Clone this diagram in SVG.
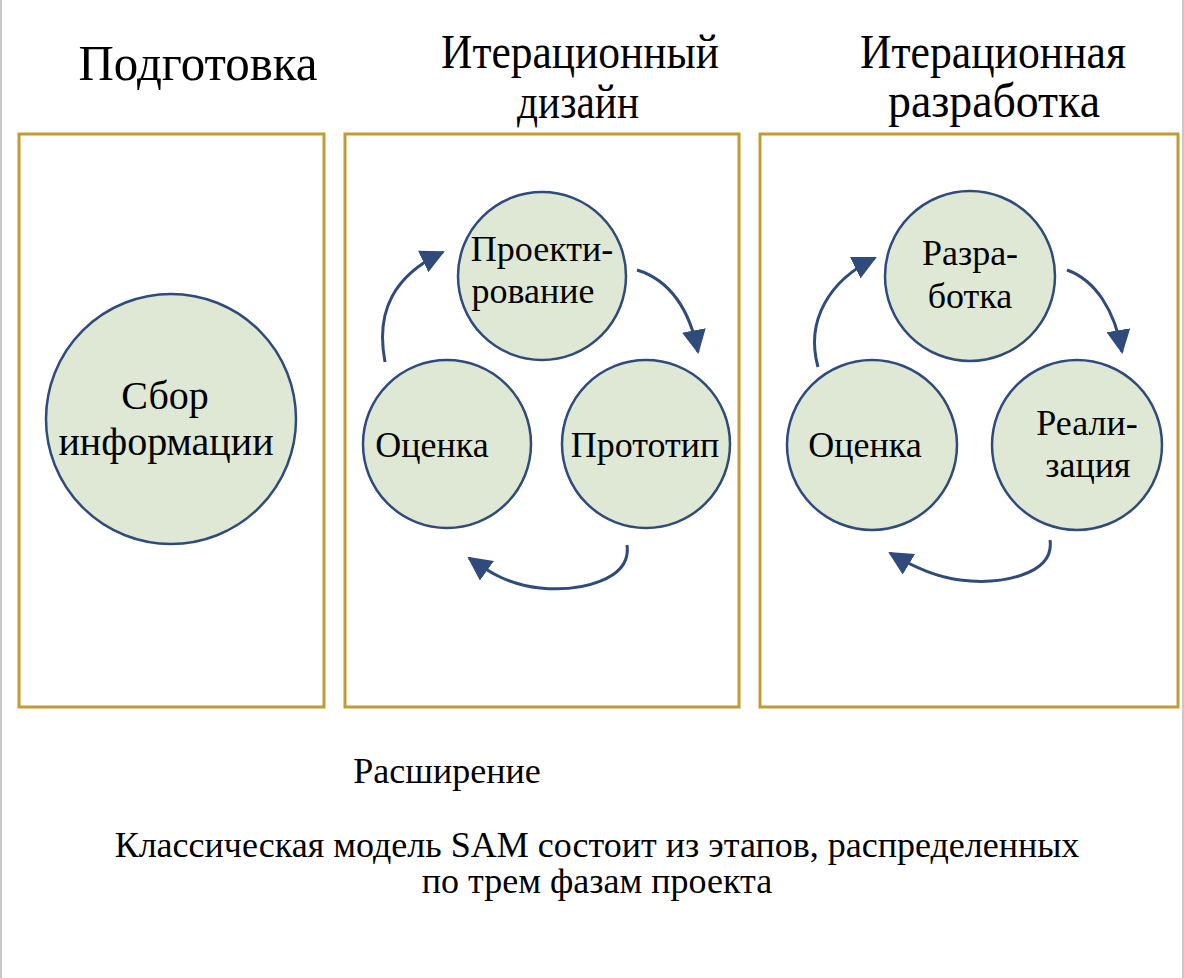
<svg xmlns="http://www.w3.org/2000/svg" width="1184" height="978" viewBox="0 0 1184 978">
<defs>
<style>
text{font-family:'Liberation Serif','Times New Roman',serif;fill:#000;text-anchor:middle}
.h{font-size:48px}
.n{font-size:36px}
.c{font-size:36px}
.box{fill:#fff;stroke:#C49B33;stroke-width:3}
.cir{fill:#DEE8D4;stroke:#2F4B7C;stroke-width:2.5}
.arr{fill:none;stroke:#2F4B7C;stroke-width:3;marker-end:url(#ah)}
</style>
<marker id="ah" markerUnits="userSpaceOnUse" markerWidth="26" markerHeight="26" refX="22" refY="12" orient="auto">
<path d="M0,0 L24,12 L0,24 z" fill="#2F4B7C"/>
</marker>
</defs>
<rect width="1184" height="978" fill="#fff"/>
<line x1="1" y1="0" x2="1" y2="978" stroke="#C8C8C8" stroke-width="2"/>
<line x1="1183" y1="0" x2="1183" y2="978" stroke="#C8C8C8" stroke-width="2"/>

<g id="headers">
<text x="198" y="80" font-size="50" textLength="239" lengthAdjust="spacingAndGlyphs">Подготовка</text>
<text class="h" x="580" y="68" textLength="278" lengthAdjust="spacingAndGlyphs">Итерационный</text>
<text class="h" x="578" y="118" textLength="122" lengthAdjust="spacingAndGlyphs">дизайн</text>
<text class="h" x="993" y="68" textLength="266" lengthAdjust="spacingAndGlyphs">Итерационная</text>
<text class="h" x="994" y="117" textLength="212" lengthAdjust="spacingAndGlyphs">разработка</text>
</g>

<g id="phase-prep"><rect class="box" x="19" y="134" width="305" height="573"/></g>
<g id="phase-design"><rect class="box" x="345" y="134" width="394" height="573"/></g>
<g id="phase-dev"><rect class="box" x="760" y="134" width="418" height="573"/></g>

<g id="node-sbor">
<circle class="cir" cx="171" cy="419" r="125"/>
<text x="165" y="409" font-size="40">Сбор</text>
<text x="166" y="455" font-size="40">информации</text>
</g>

<g id="node-proekt">
<circle class="cir" cx="542" cy="276" r="84"/>
<text class="n" x="542" y="261">Проекти-</text>
<text class="n" x="533" y="303">рование</text>
</g>
<g id="node-ocenka1">
<circle class="cir" cx="447" cy="444" r="84"/>
<text class="n" x="432" y="457">Оценка</text>
</g>
<g id="node-prototip">
<circle class="cir" cx="646" cy="444" r="84"/>
<text class="n" x="645" y="457">Прототип</text>
</g>

<g id="node-razrab">
<circle class="cir" cx="970" cy="276" r="85"/>
<text class="n" x="970" y="265">Разра-</text>
<text class="n" x="970" y="308">ботка</text>
</g>
<g id="node-ocenka2">
<circle class="cir" cx="872" cy="445" r="85"/>
<text class="n" x="865" y="457">Оценка</text>
</g>
<g id="node-realiz">
<circle class="cir" cx="1077" cy="445" r="85"/>
<text class="n" x="1087" y="435">Реали-</text>
<text class="n" x="1088" y="477">зация</text>
</g>

<g id="connectors">
<path class="arr" d="M385,362 C375,310 395,275 443,252"/>
<path class="arr" d="M637,270 C670,280 690,310 698,352"/>
<path class="arr" d="M627,545 C632,580 580,592 540,588 C510,585 490,573 469,558"/>
<path class="arr" d="M818,367 C805,320 830,280 875,258"/>
<path class="arr" d="M1067,270 C1095,280 1115,310 1122,352"/>
<path class="arr" d="M1050,540 C1055,575 1000,585 960,580 C935,577 910,565 890,553"/>
</g>

<g id="captions">
<text class="c" x="447" y="783">Расширение</text>
<text class="c" x="597" y="857">Классическая модель SAM состоит из этапов, распределенных</text>
<text class="c" x="597" y="893">по трем фазам проекта</text>
</g>
</svg>
